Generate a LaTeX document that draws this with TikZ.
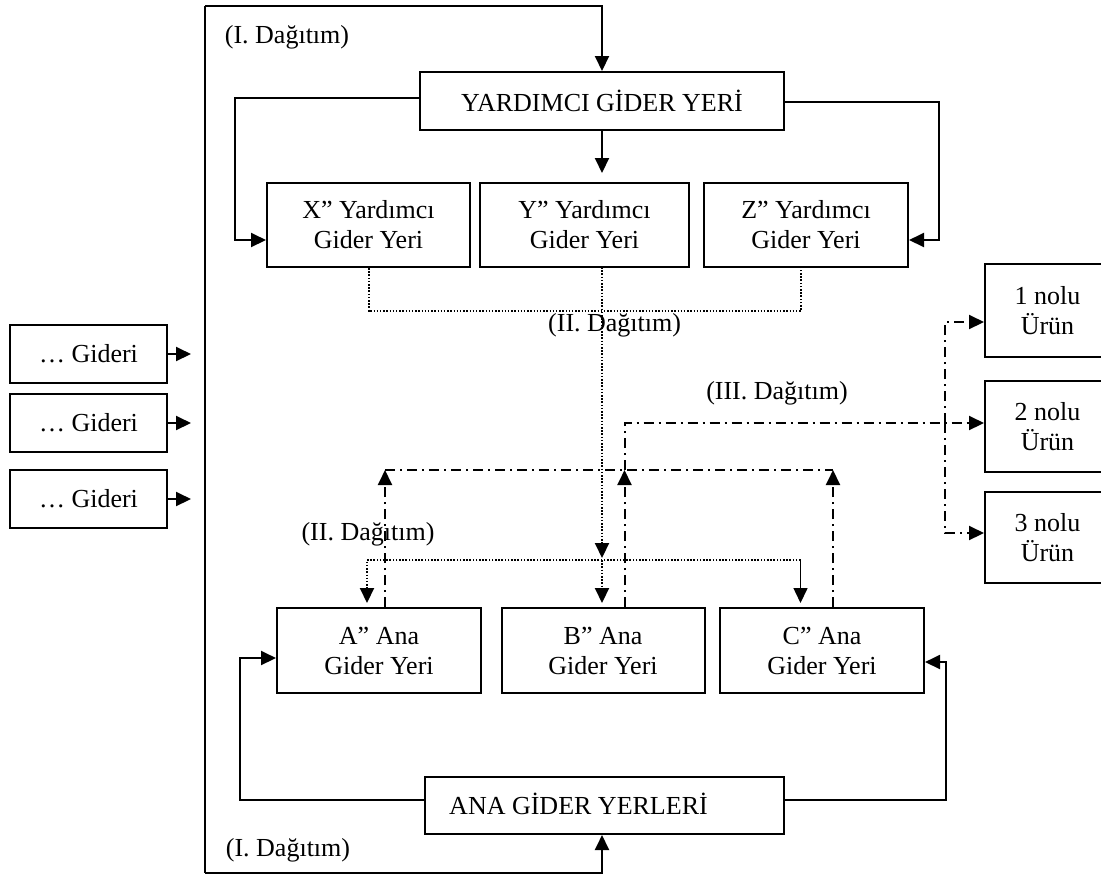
\documentclass[tikz,border=0pt]{standalone}
\usepackage{fontspec}
\setmainfont{Liberation Serif}
\usetikzlibrary{arrows.meta}
\begin{document}
\begin{tikzpicture}[x=0.5pt,y=-0.5pt,
  txt/.style={font=\fontsize{13}{15}\selectfont},
  box/.style={draw,line width=1pt,inner sep=0pt,align=center,txt},
  lbl/.style={inner sep=0pt,txt},
  conn/.style={line width=1pt},
  thinconn/.style={line width=0.75pt},
  tip/.style={-{Triangle[length=7.5pt,width=7pt]}},
  dots/.style={line width=1pt,dash pattern=on 0.75pt off 0.85pt},
  dashdot/.style={line width=1pt,dash pattern=on 5pt off 2.5pt on 1pt off 2.5pt}]
\useasboundingbox (0,0) rectangle (1101,874);
\clip (0,0) rectangle (1101,874);

% upper service cost centre and its three parts
\node[box,minimum width=182pt,minimum height=29pt] (yard) at (602,101) {YARDIMCI GİDER YERİ};
\node[box,minimum width=101.5pt,minimum height=42pt] (X) at (368.5,225) {X” Yardımcı\\Gider Yeri};
\node[box,minimum width=104.5pt,minimum height=42pt] (Y) at (584.5,225) {Y” Yardımcı\\Gider Yeri};
\node[box,minimum width=102pt,minimum height=42pt] (Z) at (806,225) {Z” Yardımcı\\Gider Yeri};

% main cost centres
\node[box,minimum width=102pt,minimum height=42.5pt] (A) at (379,650.5) {A” Ana\\Gider Yeri};
\node[box,minimum width=101.5pt,minimum height=42.5pt] (B) at (603,650.5) {B” Ana\\Gider Yeri};
\node[box,minimum width=102pt,minimum height=42.5pt] (C) at (822,650.5) {C” Ana\\Gider Yeri};
\node[box,minimum width=179.5pt,minimum height=28.5pt] (ana) at (604.5,805.5) {};
\node[lbl] (anatext) at (578.5,804) {ANA GİDER YERLERİ};

% cost types on the left
\node[box,minimum width=78.5pt,minimum height=29pt] (g1) at (88.5,354) {… Gideri};
\node[box,minimum width=78.5pt,minimum height=29pt] (g2) at (88.5,423) {… Gideri};
\node[box,minimum width=78.5pt,minimum height=29pt] (g3) at (88.5,499) {… Gideri};

% products on the right
\node[box,minimum width=62.5pt,minimum height=46.5pt] (u1) at (1047.5,310.5) {1 nolu\\Ürün};
\node[box,minimum width=62.5pt,minimum height=45.5pt] (u2) at (1047.5,426.4) {2 nolu\\Ürün};
\node[box,minimum width=62.5pt,minimum height=45.5pt] (u3) at (1047.5,537.5) {3 nolu\\Ürün};

% labels
\node[lbl] (l1top) at (287,37) {(I. Dağıtım)};
\node[lbl] (l1bot) at (288,850) {(I. Dağıtım)};
\node[lbl] (l2top) at (614.6,325) {(II. Dağıtım)};
\node[lbl] (l2bot) at (368,534) {(II. Dağıtım)};
\node[lbl] (l3) at (777,393) {(III. Dağıtım)};

% frame carrying the costs (first distribution)
\coordinate (ftop) at (205,6);
\coordinate (fbot) at (205,873);
\coordinate (ftopr) at (602,6);
\coordinate (fbotr) at (602,873);
\draw[conn] (ftop) -- (fbot);
\draw[conn,tip] (ftop) -- (ftopr) -- (yard.north);
\draw[conn,tip] (fbot) -- (fbotr) -- (fbotr |- ana.south);

% cost types feeding the frame
\coordinate (in1) at (191,354);
\coordinate (in2) at (191,423);
\coordinate (in3) at (191,499);
\draw[conn,tip] (g1.east) -- (in1);
\draw[conn,tip] (g2.east) -- (in2);
\draw[conn,tip] (g3.east) -- (in3);

% service centre to its parts
\coordinate (ytip) at (602,173);
\draw[conn,tip] (yard.west |- 0,98) -- (235,98) -- (235,240) -- (X.west |- 0,240);
\draw[conn,tip] (yard.south) -- (ytip);
\draw[conn,tip] (yard.east |- 0,102) -- (939.4,102) -- (939.4,240) -- (Z.east |- 0,240);

% main centres from the collecting box
\draw[conn,tip] (ana.west |- 0,800) -- (240,800) -- (240,658) -- (A.west |- 0,658);
\draw[conn,tip] (ana.east |- 0,800) -- (945.5,800) -- (945.5,662) -- (C.east |- 0,662);

% second distribution (dotted)
\coordinate (yd) at (602,267);
\coordinate (zd) at (801,267);
\coordinate (mid) at (602,560);
\coordinate (cr) at (800.5,560);
\draw[dots] (X.south) -- (368.5,311) -- (801,311) -- (zd);
\draw[dots,tip] (yd) -- (602,558);
\draw[dots,tip] (mid) -- (602,603);
\draw[dots,tip] (cr) -- (367,560) -- (367,603);
\draw[thinconn,tip] (cr) -- (800.5,603);

% third distribution (dash-dot)
\coordinate (ha) at (385,470);
\coordinate (hb) at (624.5,470);
\coordinate (hc) at (833,470);
\coordinate (sp) at (945,423);
\draw[dashdot] (ha) -- (hc);
\draw[dashdot,tip] ([xshift=3pt]A.north) -- (ha);
\draw[dashdot,tip] ([xshift=10.75pt]B.north) -- (hb);
\draw[dashdot,tip] ([xshift=5.5pt]C.north) -- (hc);
\draw[dashdot,tip] (hb) -- (624.5,423) -- (u2.west |- 0,423);
\draw[dashdot,tip] (sp) -- (945,322) -- (u1.west |- 0,322);
\draw[dashdot,tip] (sp) -- (945,533) -- (u3.west |- 0,533);
\end{tikzpicture}
\end{document}
